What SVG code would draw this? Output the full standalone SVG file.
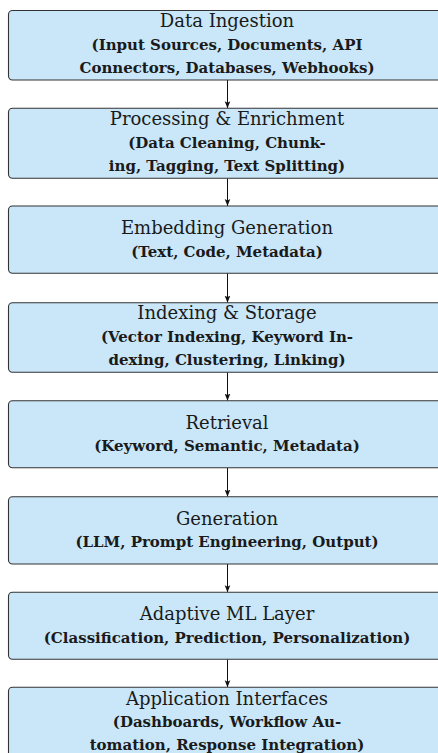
<svg xmlns="http://www.w3.org/2000/svg" width="438" height="753" viewBox="0 0 438 753">
<style>
.box{fill:#c9e7f9;stroke:#333;stroke-width:1.1}
.t{font-family:"DejaVu Serif","Liberation Serif",serif;font-size:18px;fill:#1a1a1a;text-anchor:middle}
.s{font-family:"DejaVu Serif","Liberation Serif",serif;font-size:15px;font-weight:bold;fill:#1a1a1a;text-anchor:middle}
.c{stroke:#111;stroke-width:1;fill:none;marker-end:url(#ah)}
</style>
<defs>
<marker id="ah" viewBox="0 0 10 10" refX="10" refY="5" markerWidth="7" markerHeight="7" markerUnits="userSpaceOnUse" orient="auto">
<path d="M0,1 L10,5 L0,9 L2,5 Z" fill="#111"/>
</marker>
</defs>
<rect width="438" height="753" fill="#fff"/>
<g id="connectors">
<line class="c" x1="227.5" y1="80" x2="227.5" y2="108.3"/>
<line class="c" x1="227.5" y1="178.3" x2="227.5" y2="206"/>
<line class="c" x1="227.5" y1="273.3" x2="227.5" y2="302.7"/>
<line class="c" x1="227.5" y1="372.3" x2="227.5" y2="400.7"/>
<line class="c" x1="227.5" y1="467.7" x2="227.5" y2="496.7"/>
<line class="c" x1="227.5" y1="564" x2="227.5" y2="592.3"/>
<line class="c" x1="227.5" y1="659.3" x2="227.5" y2="687.3"/>
</g>
<g id="n1">
<rect class="box" x="8.5" y="10.5" width="438" height="69.5" rx="4"/>
<text class="t" x="227" y="27">Data Ingestion</text>
<text class="s" x="227" y="49.5">(Input Sources, Documents, API</text>
<text class="s" x="227" y="72.5">Connectors, Databases, Webhooks)</text>
</g>
<g id="n2">
<rect class="box" x="8.5" y="108.3" width="438" height="70" rx="4"/>
<text class="t" x="227" y="125">Processing &amp; Enrichment</text>
<text class="s" x="227" y="147.5">(Data Cleaning, Chunk-</text>
<text class="s" x="227" y="170.5">ing, Tagging, Text Splitting)</text>
</g>
<g id="n3">
<rect class="box" x="8.5" y="206" width="438" height="67.3" rx="4"/>
<text class="t" x="227" y="234.3">Embedding Generation</text>
<text class="s" x="227" y="256.7">(Text, Code, Metadata)</text>
</g>
<g id="n4">
<rect class="box" x="8.5" y="302.7" width="438" height="69.6" rx="4"/>
<text class="t" x="227" y="319.3">Indexing &amp; Storage</text>
<text class="s" x="227" y="341.7">(Vector Indexing, Keyword In-</text>
<text class="s" x="227" y="365">dexing, Clustering, Linking)</text>
</g>
<g id="n5">
<rect class="box" x="8.5" y="400.7" width="438" height="67" rx="4"/>
<text class="t" x="227" y="428.7">Retrieval</text>
<text class="s" x="227" y="451">(Keyword, Semantic, Metadata)</text>
</g>
<g id="n6">
<rect class="box" x="8.5" y="496.7" width="438" height="67.3" rx="4"/>
<text class="t" x="227" y="524.7">Generation</text>
<text class="s" x="227" y="547">(LLM, Prompt Engineering, Output)</text>
</g>
<g id="n7">
<rect class="box" x="8.5" y="592.3" width="438" height="67" rx="4"/>
<text class="t" x="227" y="620.3">Adaptive ML Layer</text>
<text class="s" x="227" y="642.7">(Classification, Prediction, Personalization)</text>
</g>
<g id="n8">
<rect class="box" x="8.5" y="687.3" width="438" height="70" rx="4"/>
<text class="t" x="227" y="704.5">Application Interfaces</text>
<text class="s" x="227" y="726.8">(Dashboards, Workflow Au-</text>
<text class="s" x="227" y="749.5">tomation, Response Integration)</text>
</g>
</svg>
